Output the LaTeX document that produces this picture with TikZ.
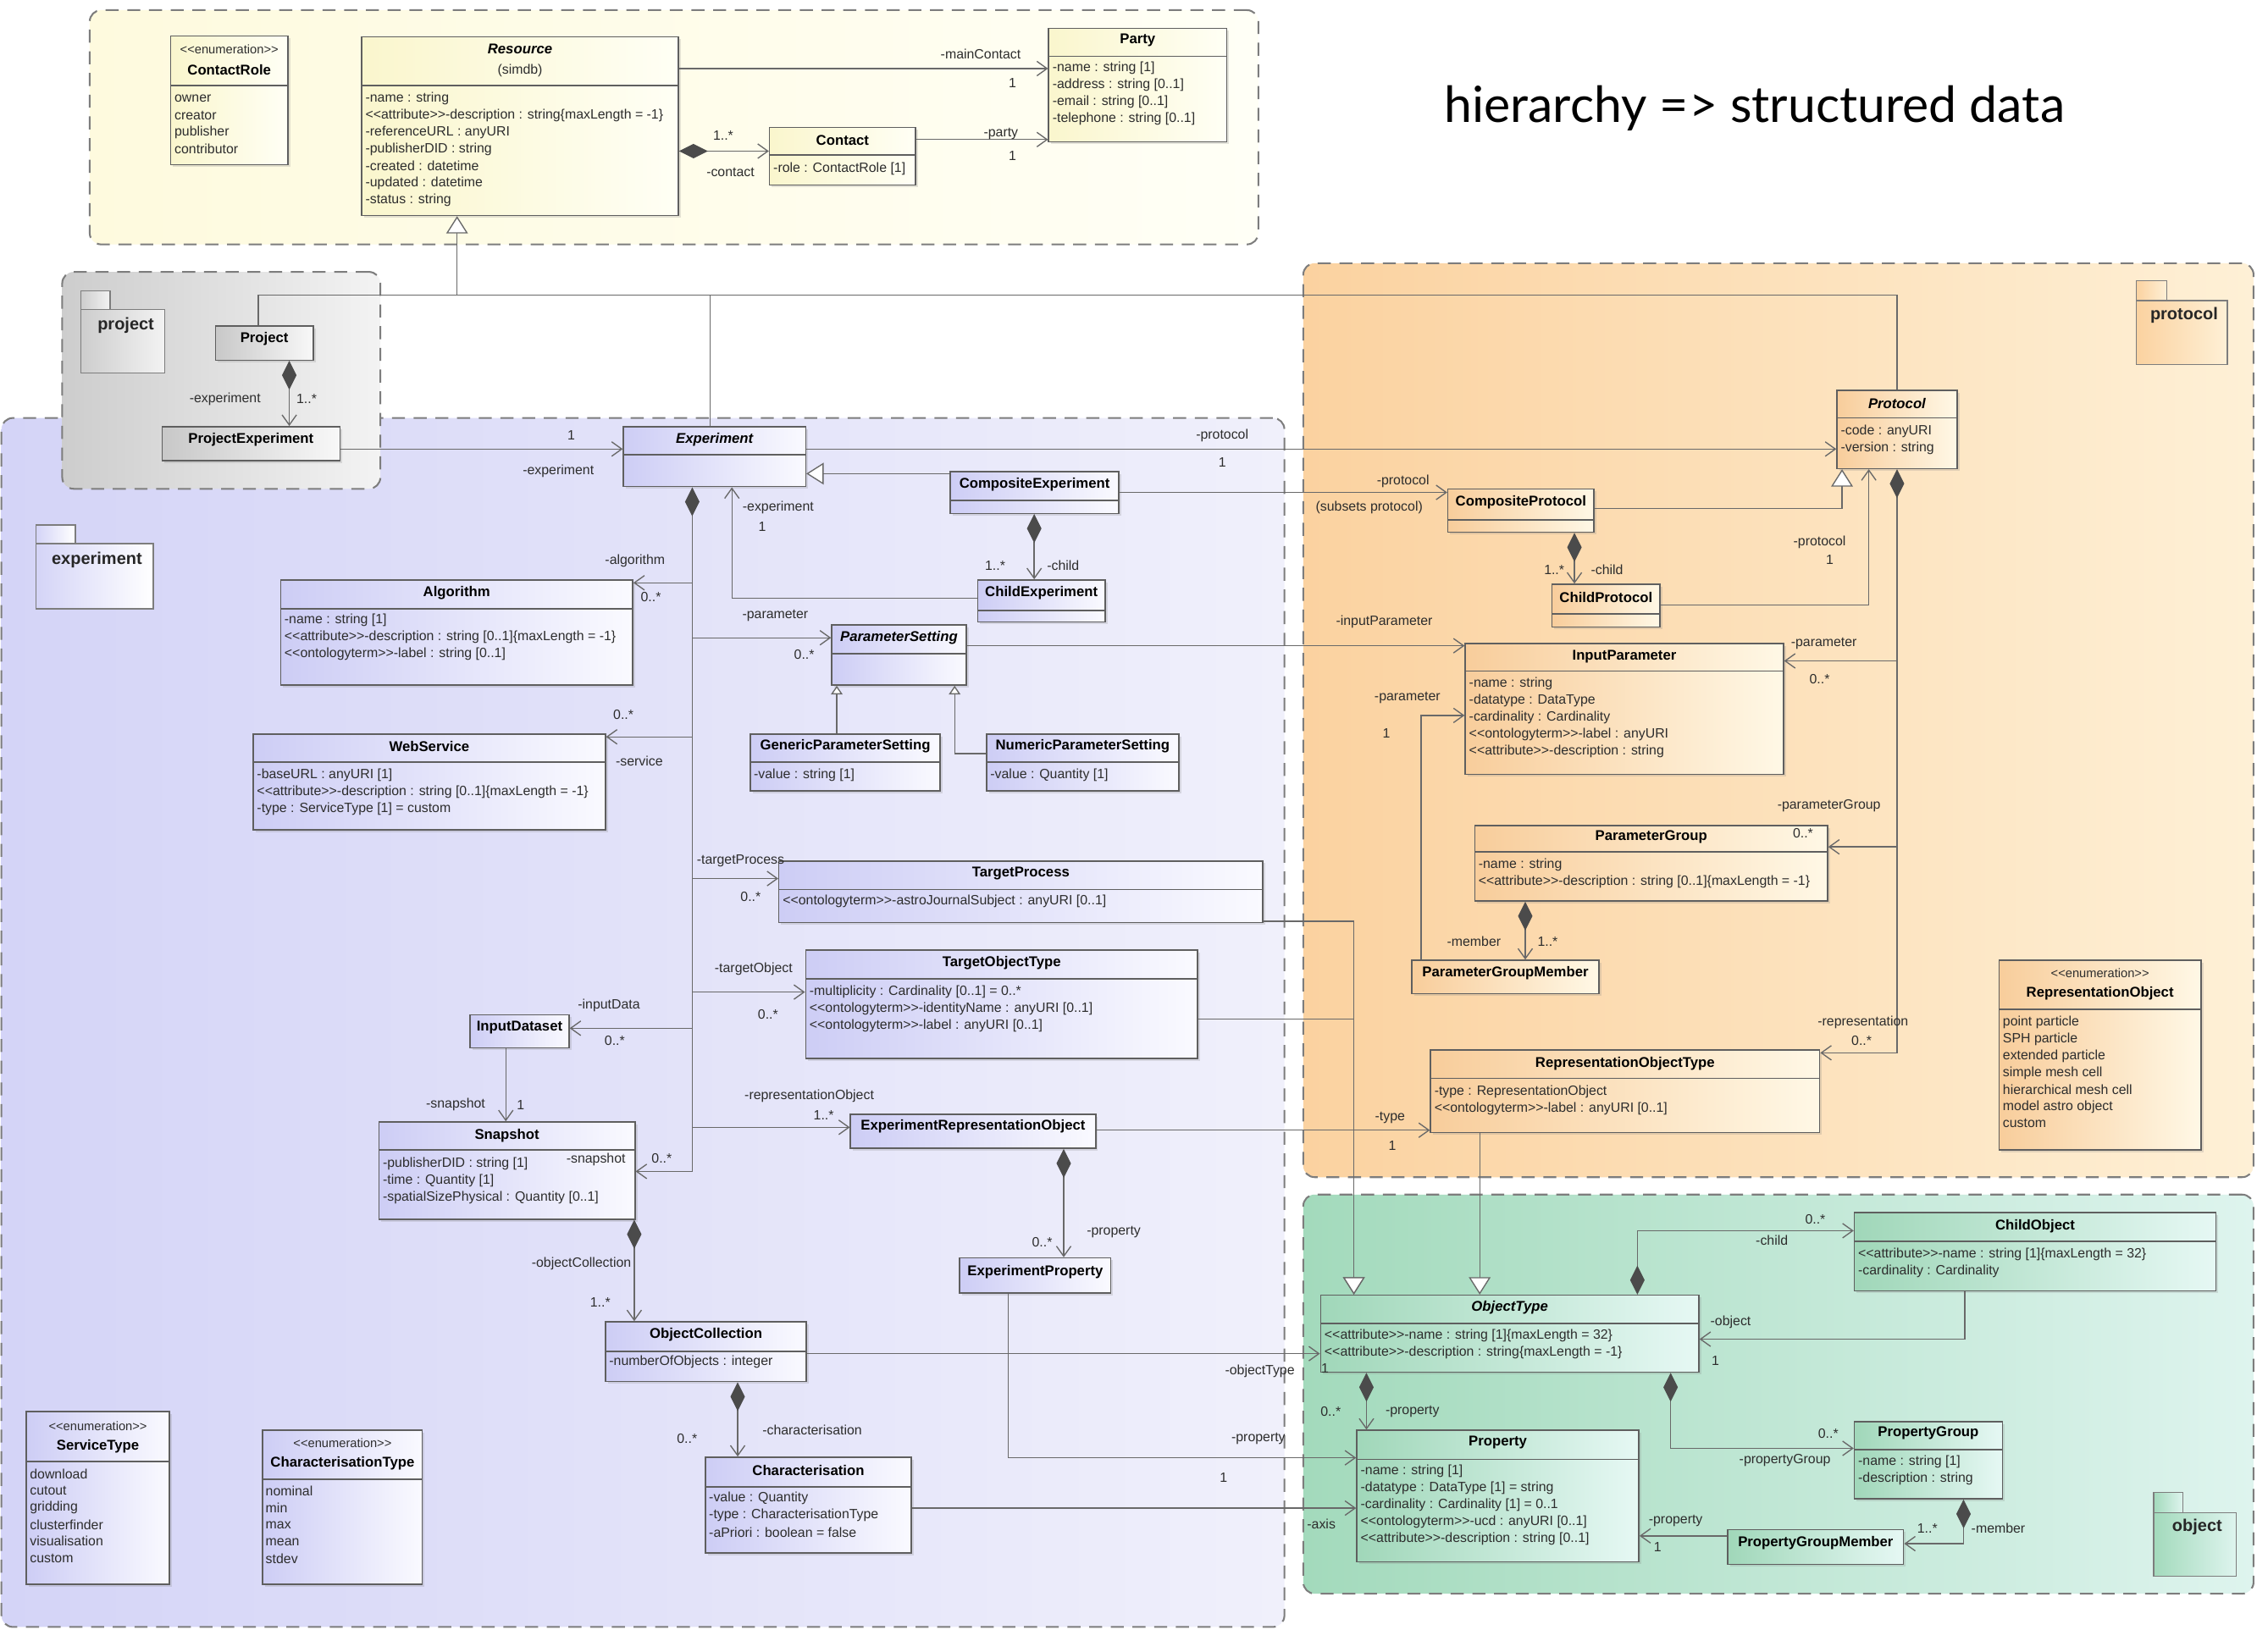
\documentclass[tikz,border=0pt]{standalone}
\usepackage{fontspec}
\setmainfont{Liberation Sans}
\newfontfamily\titlefont{Lato}
\usetikzlibrary{arrows.meta,fit,shadows}

\definecolor{pkline}{RGB}{125,125,125}
\definecolor{boxline}{RGB}{95,95,95}
\definecolor{wirec}{RGB}{105,105,105}
\definecolor{txt}{RGB}{45,45,45}
\definecolor{diam}{RGB}{75,75,75}
\definecolor{yelA}{RGB}{254,250,222}\definecolor{yelB}{RGB}{255,255,246}
\definecolor{gryA}{RGB}{205,205,205}\definecolor{gryB}{RGB}{243,243,243}
\definecolor{bluA}{RGB}{212,212,247}\definecolor{bluB}{RGB}{240,240,251}
\definecolor{orgA}{RGB}{251,210,160}\definecolor{orgB}{RGB}{254,240,214}
\definecolor{grnA}{RGB}{163,218,188}\definecolor{grnB}{RGB}{222,244,238}
\definecolor{byelA}{RGB}{250,246,205}\definecolor{byelB}{RGB}{255,255,245}
\definecolor{bgryA}{RGB}{200,200,200}\definecolor{bgryB}{RGB}{248,248,248}
\definecolor{bbluA}{RGB}{205,205,245}\definecolor{bbluB}{RGB}{250,250,255}
\definecolor{borgA}{RGB}{248,205,155}\definecolor{borgB}{RGB}{255,248,230}
\definecolor{bgrnA}{RGB}{160,215,185}\definecolor{bgrnB}{RGB}{230,248,244}

\newcommand{\lt}{\textless\kern0pt\textless}
\newcommand{\gt}{\textgreater\kern0pt\textgreater}
\newcommand{\att}{\lt attribute\gt}
\newcommand{\ont}{\lt ontologyterm\gt}
\newcommand{\enm}{\lt enumeration\gt}

\tikzset{
  pkg/.style={draw=pkline, line width=1.2pt, dash pattern=on 9pt off 6pt, rounded corners=8pt, inner sep=0pt},
  pktab/.style={draw=pkline, line width=0.9pt, inner sep=0pt},
  pklabel/.style={inner sep=0pt, text=black!85, font=\fontsize{11.7}{13}\selectfont\bfseries},
  umlcls/.style={draw=boxline, line width=0.9pt, inner sep=0pt,
    drop shadow={opacity=0.22, shadow xshift=1.6pt, shadow yshift=-1.6pt}},
  divider/.style={draw=boxline, line width=0.9pt},
  inyel/.style={left color=byelA, right color=byelB},
  ingry/.style={left color=bgryA, right color=bgryB},
  inblu/.style={left color=bbluA, right color=bbluB},
  inorg/.style={left color=borgA, right color=borgB},
  ingrn/.style={left color=bgrnA, right color=bgrnB},
  cname/.style={inner sep=0pt, font=\fontsize{9.8}{11}\selectfont\bfseries},
  stereo/.style={inner sep=0pt, text=txt, font=\fontsize{8.6}{10}\selectfont},
  attr/.style={anchor=west, inner sep=0pt, text=txt, font=\fontsize{9.3}{11}\selectfont},
  lbl/.style={inner sep=0pt, text=txt, font=\fontsize{9.3}{11}\selectfont},
  wire/.style={draw=wirec, line width=0.8pt},
  nav/.style={wire, -{Straight Barb[length=7pt,width=10pt]}},
  comp/.style={wire, {Diamond[length=20pt,width=10pt,fill=diam,color=diam]}-{Straight Barb[length=7pt,width=10pt]}},
  gen/.style={wire, -{Triangle[length=12pt,width=15pt,fill=white]}},
  gensmall/.style={wire, -{Triangle[length=6pt,width=8pt,fill=white]}}
}

% class box: id, colour style, nw corner, se corner, divider y, name y, name
\newcommand{\umlbox}[7]{%
  \node[umlcls, #2, fit={(#3) (#4)}] (#1) {};
  \draw[divider] (#1.west |- 0,#5) -- (#1.east |- 0,#5);
  \node[cname] (#1-name) at (#1.north |- 0,#6) {#7};}
\newcommand{\umlplain}[6]{%
  \node[umlcls, #2, fit={(#3) (#4)}] (#1) {};
  \node[cname] (#1-name) at (#1.north |- 0,#5) {#6};}
\newcommand{\umlattrs}[4]{%
  \foreach \itm [count=\ii] in {#4}
    \node[attr] (#1-a\ii) at ({#2},{#3+(\ii-1)*11.7}) {\itm};}

\begin{document}
\begin{tikzpicture}[x=1pt,y=-1pt]
\path[use as bounding box, fill=white] (0,0) rectangle (1568,1127);

% packages
\node[pkg, left color=bluA, right color=bluB, fit={(1,289) (888,1125)}] (pk-exp) {};
\node[pkg, left color=gryA, right color=gryB, fit={(43,188) (263,338)}] (pk-proj) {};
\node[pkg, left color=yelA, right color=yelB, fit={(62,7) (870,169)}] (pk-res) {};
\node[pkg, left color=orgA, right color=orgB, fit={(901,182) (1558,814)}] (pk-prot) {};
\node[pkg, left color=grnA, right color=grnB, fit={(901,826) (1558,1102)}] (pk-obj) {};

\node[pktab, left color=gryA, right color=gryB, fit={(56,201) (76,214)}] (ic-proj-tab) {};
\node[pktab, left color=gryA, right color=gryB, fit={(56,214) (114,258)}] (ic-proj) {};
\node[pklabel] (ic-proj-t) at (87,225) {project};
\node[pktab, left color=bluA, right color=white, fit={(25,363) (52,376)}] (ic-exp-tab) {};
\node[pktab, left color=bluA, right color=white, fit={(25,376) (106,421)}] (ic-exp) {};
\node[pklabel] (ic-exp-t) at (67,387) {experiment};
\node[pktab, left color=orgA, right color=orgB, fit={(1477,194) (1498,208)}] (ic-prot-tab) {};
\node[pktab, left color=orgA, right color=orgB, fit={(1477,208) (1540,252)}] (ic-prot) {};
\node[pklabel] (ic-prot-t) at (1510,218) {protocol};
\node[pktab, left color=grnA, right color=grnB, fit={(1489,1032) (1509,1046)}] (ic-obj-tab) {};
\node[pktab, left color=grnA, right color=grnB, fit={(1489,1046) (1546,1090)}] (ic-obj) {};
\node[pklabel] (ic-obj-t) at (1519,1056) {object};

\node[inner sep=0pt, font=\titlefont\fontsize{34.5}{40}\selectfont] (title) at (1213,75) {hierarchy => structured data};

% resource package
\umlbox{crole}{inyel}{118,25}{199,114}{59}{48.6}{ContactRole}
\node[stereo] (crole-s) at (crole.north |- 0,34) {\enm};
\umlattrs{crole}{120.5}{68}{owner,creator,publisher,contributor}
\umlbox{res}{inyel}{250,25.5}{469,149}{59}{34}{\itshape Resource}
\node[lbl] (res-s) at (res.north |- 0,48.6) {(simdb)};
\umlattrs{res}{252.5}{68}{-name : string,\att-description : string\{maxLength = -1\},-referenceURL : anyURI,-publisherDID : string,-created : datetime,-updated : datetime,-status : string}
\umlbox{party}{inyel}{725,19.5}{848,98}{39}{28}{Party}
\umlattrs{party}{727.5}{47}{-name : string [1],-address : string [0..1],-email : string [0..1],-telephone : string [0..1]}
\umlbox{contact}{inyel}{532,88}{633,128}{107}{97}{Contact}
\umlattrs{contact}{534.5}{117}{-role : ContactRole [1]}

% project package
\umlplain{proj}{ingry}{149,225.5}{216.5,249}{234.5}{Project}
\umlplain{pexp}{ingry}{112,295}{235,318.5}{304}{ProjectExperiment}

% experiment package
\umlbox{exp}{inblu}{431,295}{557,336.5}{314.5}{304}{\itshape Experiment}
\umlbox{ce}{inblu}{657,326}{773.5,355}{346}{335}{CompositeExperiment}
\umlbox{cexp}{inblu}{676,401}{764,430}{422}{410}{ChildExperiment}
\umlbox{alg}{inblu}{194,401}{437.4,473.7}{421}{410}{Algorithm}
\umlattrs{alg}{196.5}{429}{-name : string [1],\att-description : string [0..1]\{maxLength = -1\},\ont-label : string [0..1]}
\umlbox{ps}{inblu}{575,432}{668,473.7}{452}{441}{\itshape ParameterSetting}
\umlbox{gps}{inblu}{518.7,507.6}{650,547}{527}{516}{GenericParameterSetting}
\umlattrs{gps}{521}{535.7}{-value : string [1]}
\umlbox{nps}{inblu}{682,507.6}{815,547}{527}{516}{NumericParameterSetting}
\umlattrs{nps}{684.5}{535.7}{-value : Quantity [1]}
\umlbox{ws}{inblu}{175,507.6}{418.5,573.8}{527}{516}{WebService}
\umlattrs{ws}{177.5}{535.7}{-baseURL : anyURI [1],\att-description : string [0..1]\{maxLength = -1\},-type : ServiceType [1] = custom}
\umlbox{tp}{inblu}{538.5,595.3}{873,638}{615}{603.7}{TargetProcess}
\umlattrs{tp}{541}{623}{\ont-astroJournalSubject : anyURI [0..1]}
\umlbox{tot}{inblu}{557,657}{828,732}{676.7}{666}{TargetObjectType}
\umlattrs{tot}{559.5}{686}{-multiplicity : Cardinality [0..1] = 0..*,\ont-identityName : anyURI [0..1],\ont-label : anyURI [0..1]}
\umlplain{ids}{inblu}{325,701.6}{393.4,724.5}{710.5}{InputDataset}
\umlbox{snap}{inblu}{262,775.8}{439,843}{795}{785}{Snapshot}
\umlattrs{snap}{264.5}{804.8}{-publisherDID : string [1],-time : Quantity [1],-spatialSizePhysical : Quantity [0..1]}
\umlbox{oc}{inblu}{418.7,914}{557.4,955.3}{934.4}{922.7}{ObjectCollection}
\umlattrs{oc}{421}{942}{-numberOfObjects : integer}
\umlbox{char}{inblu}{487.7,1007.6}{630,1073.7}{1028}{1016.7}{Characterisation}
\umlattrs{char}{490}{1036}{-value : Quantity,-type : CharacterisationType,-aPriori : boolean = false}
\umlplain{ero}{inblu}{588,770.6}{757.5,794}{778.8}{ExperimentRepresentationObject}
\umlplain{eprop}{inblu}{663.5,869.8}{768,894}{879.4}{ExperimentProperty}
\umlbox{stype}{inblu}{18.3,976}{117,1095.5}{1010.5}{1000}{ServiceType}
\node[stereo] (stype-s) at (stype.north |- 0,986) {\enm};
\umlattrs{stype}{20.5}{1019}{download,cutout,gridding,clusterfinder,visualisation,custom}
\umlbox{ctype}{inblu}{181.6,989}{292,1095.5}{1023}{1012}{CharacterisationType}
\node[stereo] (ctype-s) at (ctype.north |- 0,998) {\enm};
\umlattrs{ctype}{183.5}{1031}{nominal,min,max,mean,stdev}

% protocol package
\umlbox{prot}{inorg}{1270,270}{1353,324}{289}{279}{\itshape Protocol}
\umlattrs{prot}{1272.5}{298}{-code : anyURI,-version : string}
\umlbox{cp}{inorg}{1001,338}{1102,368}{359.6}{347.5}{CompositeProtocol}
\umlbox{cprot}{inorg}{1073,404}{1147.6,433.5}{424.5}{413}{ChildProtocol}
\umlbox{ip}{inorg}{1013,445}{1233,535.5}{464}{454}{InputParameter}
\umlattrs{ip}{1015.5}{473}{-name : string,-datatype : DataType,-cardinality : Cardinality,\ont-label : anyURI,\att-description : string}
\umlbox{pgrp}{inorg}{1019.7,571}{1263.5,623}{589}{578.7}{ParameterGroup}
\umlattrs{pgrp}{1022}{598}{-name : string,\att-description : string [0..1]\{maxLength = -1\}}
\umlplain{pgm}{inorg}{976,664}{1105.5,687}{673}{ParameterGroupMember}
\umlbox{rot}{inorg}{989,726}{1258,783}{745.7}{735.5}{RepresentationObjectType}
\umlattrs{rot}{991.5}{754.7}{-type : RepresentationObject,\ont-label : anyURI [0..1]}
\umlbox{robj}{inorg}{1382,664}{1521.7,795}{698}{687}{RepresentationObject}
\node[stereo] (robj-s) at (robj.north |- 0,673) {\enm};
\umlattrs{robj}{1384.5}{706.7}{point particle,SPH particle,extended particle,simple mesh cell,hierarchical mesh cell,model astro object,custom}

% object package
\umlbox{ot}{ingrn}{913,895.6}{1174.5,948.8}{915}{904}{\itshape ObjectType}
\umlattrs{ot}{915.5}{923.5}{\att-name : string [1]\{maxLength = 32\},\att-description : string\{maxLength = -1\}}
\umlbox{cobj}{ingrn}{1282,838.4}{1532,892.7}{858.4}{847.8}{ChildObject}
\umlattrs{cobj}{1284.5}{867.5}{\att-name : string [1]\{maxLength = 32\},-cardinality : Cardinality}
\umlbox{prop}{ingrn}{938,989}{1133,1080}{1009}{997.5}{Property}
\umlattrs{prop}{940.5}{1017}{-name : string [1],-datatype : DataType [1] = string,-cardinality : Cardinality [1] = 0..1,\ont-ucd : anyURI [0..1],\att-description : string [0..1]}
\umlbox{pgroup}{ingrn}{1282,983}{1384.3,1036.4}{1002.4}{991}{PropertyGroup}
\umlattrs{pgroup}{1284.5}{1011}{-name : string [1],-description : string}
\umlplain{pgmem}{ingrn}{1194.5,1057.6}{1316,1081.8}{1066.7}{PropertyGroupMember}

% associations
\draw[nav] (res.east |- 0,47.4) -- (party.west |- 0,47.4);
\draw[comp] (res.east |- 0,104.5) -- (contact.west |- 0,104.5);
\draw[nav] (contact.east |- 0,96.5) -- (party.west |- 0,96.5);

\coordinate (hub) at (316,204);
\draw[wire] (proj.north -| 178.5,0) |- (prot.north |- hub) -- (prot.north);
\draw[wire] (exp.north -| 491,0) -- (hub -| 491,0);
\draw[gen] (hub) -- (res.south -| hub);

\draw[comp] (proj.south -| 200,0) -- (pexp.north -| 200,0);
\draw[nav] (pexp.east |- 0,310.5) -- (exp.west |- 0,310.5);
\draw[nav] (exp.east |- 0,310.5) -- (prot.west |- 0,310.5);
\draw[gen] (ce.west |- 0,327.5) -- (exp.east |- 0,327.5);
\draw[nav] (ce.east |- 0,340.5) -- (cp.west |- 0,340.5);
\draw[gen] (cp.east |- 0,351.5) -| (prot.south -| 1273.5,0);
\draw[comp] (ce.south -| 715,0) -- (cexp.north -| 715,0);
\draw[nav] (cexp.west |- 0,413.6) -| (exp.south -| 506,0);
\draw[comp] (cp.south -| 1088.5,0) -- (cprot.north -| 1088.5,0);
\draw[nav] (cprot.east |- 0,418.4) -| (prot.south -| 1292,0);

\draw[comp] (prot.south) |- (ip.east |- 0,457);
\draw[nav] (prot.south |- 0,457) |- (pgrp.east |- 0,585.6);
\draw[nav] (prot.south |- 0,585.6) |- (rot.east |- 0,728);
\draw[nav] (ps.east |- 0,446.5) -- (ip.west |- 0,446.5);
\draw[nav] (pgm.north -| 982.5,0) |- (ip.west |- 0,494.7);
\draw[comp] (pgrp.south -| 1054.5,0) -- (pgm.north -| 1054.5,0);

\coordinate (spine) at (478.6,403);
\draw[comp] (exp.south -| spine) |- (alg.east |- spine);
\foreach \dest/\yy in {ps.west/441, ws.east/509.5, tp.west/607.5, tot.west/686, ids.east/711, ero.west/779.5, snap.east/810}
  \draw[nav] (spine) |- (\dest |- 0,\yy);

\draw[gensmall] (gps.north -| 578.5,0) -- (ps.south -| 578.5,0);
\draw[gensmall] (nps.west |- 0,521) -| (ps.south -| 660,0);
\draw[gen] (tp.east |- 0,637) -| (ot.north -| 936,0);
\draw[gen] (tot.east |- 0,704.6) -| (ot.north -| 936,0);
\draw[gen] (rot.south -| 1023,0) -- (ot.north -| 1023,0);
\draw[nav] (ids.south -| 349.7,0) -- (snap.north -| 349.7,0);
\draw[comp] (snap.south -| 438.5,0) -- (oc.north -| 438.5,0);
\draw[nav] (oc.east |- 0,936) -- (ot.west |- 0,936);
\draw[comp] (oc.south -| 510,0) -- (char.north -| 510,0);
\draw[nav] (char.east |- 0,1042.8) -- (prop.west |- 0,1042.8);
\draw[nav] (eprop.south -| 697,0) |- (prop.west |- 0,1008);
\draw[nav] (ero.east |- 0,781.5) -- (rot.west |- 0,781.5);
\draw[comp] (ero.south -| 735.4,0) -- (eprop.north -| 735.4,0);

\draw[comp] (ot.north -| 1132,0) |- (cobj.west |- 0,851);
\draw[nav] (cobj.south -| 1358.4,0) |- (ot.east |- 0,926);
\draw[comp] (ot.south -| 944.7,0) -- (prop.north -| 944.7,0);
\draw[comp] (ot.south -| 1155,0) |- (pgroup.west |- 0,1001.5);
\draw[comp] (pgroup.south -| 1357.5,0) |- (pgmem.east |- 0,1067.4);
\draw[nav] (pgmem.west |- 0,1062) -- (prop.east |- 0,1062);

% role names and multiplicities
\foreach \x/\y/\lab [count=\ii] in {678/37.6/-mainContact, 700/57.6/1, 500/93.6/1..*, 505/119/-contact, 692/92.3/-party, 700/107.6/1,
  155.6/276/-experiment, 212/276/1..*, 395/301/1, 386/326/-experiment, 845/301/-protocol, 845/319.5/1,
  970/333/-protocol, 946.6/351/(subsets protocol), 688/391/1..*, 735/391/-child, 538/351/-experiment, 527/364/1,
  1074.5/394/1..*, 1111/394/-child, 1258/375/-protocol, 1265/387/1, 1261/445/-parameter, 1258/469.6/0..*,
  1264.5/557/-parameterGroup, 1246.5/576/0..*, 1288/707/-representation, 1287/719.6/0..*, 957/430/-inputParameter,
  973/482.5/-parameter, 958.5/507/1, 1019/651/-member, 1070/651/1..*, 439/388/-algorithm, 450/413/0..*,
  536/425.7/-parameter, 556/452.6/0..*, 431/494/0..*, 442/526/-service, 512/595.3/-targetProcess, 519/620/0..*,
  521/669.8/-targetObject, 531/701.6/0..*, 421/695.4/-inputData, 425/719.6/0..*, 559.5/757.7/-representationObject,
  569.5/771/1..*, 457.5/801/0..*, 412/802/-snapshot, 315/764/-snapshot, 360/764/1, 402/874/-objectCollection,
  415/900.5/1..*, 871/948/-objectType, 916/946/1, 561.5/989/-characterisation, 475/995/0..*, 913.5/1054/-axis,
  870/995/-property, 846/1022/1, 961/773/-type, 962.6/792/1, 770/851.7/-property, 720.5/859/0..*,
  1255/843/0..*, 1225/857.8/-child, 1196.5/914/-object, 1186/941/1, 920/976/0..*, 976.5/976/-property,
  1264/991/0..*, 1234/1010/-propertyGroup, 1332.5/1057/1..*, 1381.5/1057/-member, 1158.5/1051.6/-property, 1146/1069.7/1}
  \node[lbl] (lb\ii) at (\x,\y) {\lab};
\end{tikzpicture}
\end{document}
